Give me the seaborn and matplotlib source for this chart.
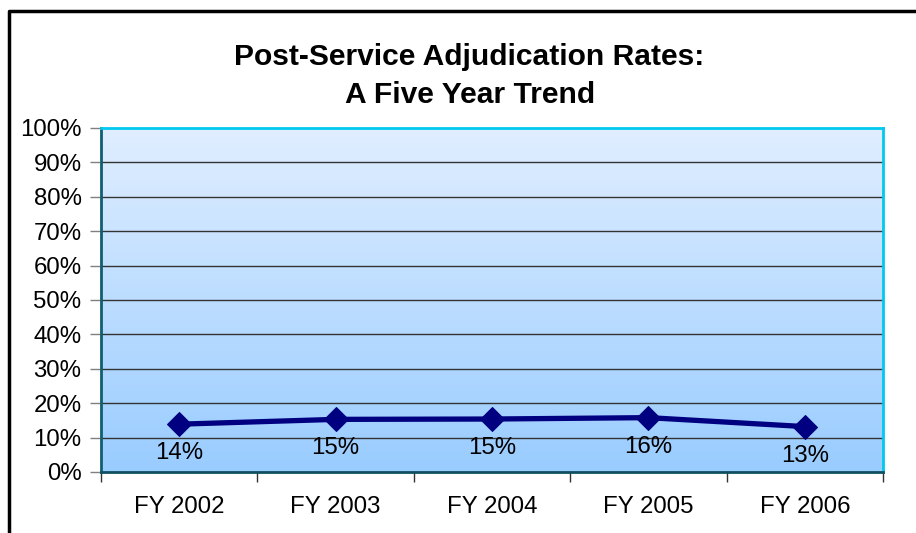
import numpy as np
import matplotlib
matplotlib.use("Agg")
import matplotlib.pyplot as plt
import seaborn as sns
from matplotlib.lines import Line2D
from matplotlib.colors import LinearSegmentedColormap
from matplotlib.ticker import MultipleLocator, FixedLocator, PercentFormatter

# Post-service adjudication rates by fiscal year
years = ["FY 2002", "FY 2003", "FY 2004", "FY 2005", "FY 2006"]
rates = [0.139, 0.153, 0.154, 0.158, 0.132]

sns.set_theme(style="white")
plt.rcParams["font.family"] = ["Liberation Sans", "DejaVu Sans"]

W, H = 916, 533
fig = plt.figure(figsize=(W / 100, H / 100), dpi=100)
fig.patch.set_facecolor("white")

L, R, T, B = 101, 883, 128, 472
ax = fig.add_axes([L / W, 1 - B / H, (R - L) / W, (B - T) / H])

# vertical gradient fill of the plotting area
grad = LinearSegmentedColormap.from_list("bg", ["#99CCFF", "#E0EEFF"])
ax.imshow(np.linspace(0, 1, 256).reshape(-1, 1), cmap=grad, aspect="auto",
          origin="lower", extent=[-0.5, 4.5, 0, 1], zorder=0)

sns.lineplot(x=years, y=rates, ax=ax, color="#000080", linewidth=3.8,
             marker="D", markersize=12, markeredgecolor="#000080",
             markerfacecolor="#000080", zorder=5, sort=False)

ax.set_xlim(-0.5, 4.5)
ax.set_ylim(0, 1)
ax.set_xlabel("")
ax.set_ylabel("")

# horizontal gridlines
for v in np.arange(0.1, 1.0, 0.1):
    ax.axhline(v, color="#333333", linewidth=1.0, zorder=2)

ax.yaxis.set_major_locator(MultipleLocator(0.1))
ax.yaxis.set_major_formatter(PercentFormatter(1.0, decimals=0))
ax.tick_params(axis="y", which="major", direction="out", length=8, width=1,
               color="#808080", labelsize=17.3, pad=6, left=True, labelcolor="black")

ax.set_xticks(range(len(years)))
ax.set_xticklabels(years)
ax.xaxis.set_minor_locator(FixedLocator(np.arange(-0.5, 5, 1.0)))
ax.tick_params(axis="x", which="major", length=0, labelsize=17.3, pad=17,
               labelcolor="black")
ax.tick_params(axis="x", which="minor", direction="out", length=7, width=1,
               color="#333333", bottom=True)

ax.spines["top"].set_color("#00C8F0")
ax.spines["right"].set_color("#00C8F0")
ax.spines["left"].set_color("#0F5F70")
ax.spines["bottom"].set_color("#0F4F60")
for s in ax.spines.values():
    s.set_linewidth(2)
    s.set_visible(True)
    s.set_zorder(6)

# value labels below each point
for i, v in enumerate(rates):
    ax.annotate(f"{v:.0%}", (i, v), xytext=(0, -29), textcoords="offset pixels",
                ha="center", va="center", fontsize=17.3, color="black", zorder=7)

fig.text(469 / W, 1 - 57 / H, "Post-Service Adjudication Rates:", ha="center",
         va="center", fontsize=21.6, fontweight="bold", color="black")
fig.text(470 / W, 1 - 95 / H, "A Five Year Trend", ha="center",
         va="center", fontsize=21.6, fontweight="bold", color="black")

# outer frame (left and top edges)
fig.add_artist(Line2D([8.5 / W, 8.5 / W, 1.0], [0.0, 1 - 11 / H, 1 - 11 / H],
                      transform=fig.transFigure, color="black", linewidth=2.5))

fig.savefig("out.png", dpi=100)
